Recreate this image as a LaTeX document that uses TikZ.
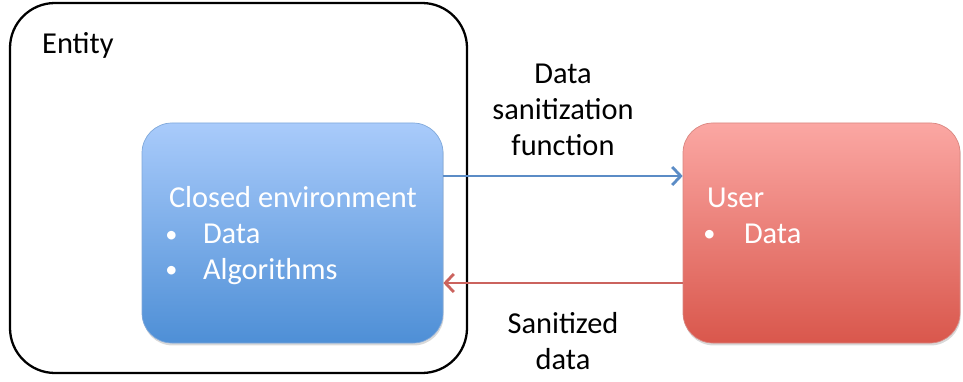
\documentclass[tikz,border=0pt]{standalone}
\usepackage{fontspec}
\setmainfont{Carlito}
\usetikzlibrary{arrows.meta,positioning,calc,shadows}
\definecolor{envtop}{HTML}{A9CBFB}
\definecolor{envbot}{HTML}{4E8FD6}
\definecolor{envline}{HTML}{7FA8DA}
\definecolor{usertop}{HTML}{FBA7A3}
\definecolor{userbot}{HTML}{D9574C}
\definecolor{userline}{HTML}{D98680}
\definecolor{bluearr}{HTML}{5B8CC6}
\definecolor{redarr}{HTML}{CB635E}
\tikzset{
  entitybox/.style={draw, line width=1.3pt, rounded corners=0.9cm, minimum width=9.14cm, minimum height=7.4cm},
  envbox/.style={draw=envline, rounded corners=0.6cm, top color=envtop, bottom color=envbot, minimum width=6.02cm, minimum height=4.4cm,
    drop shadow={shadow xshift=0.4pt, shadow yshift=-1.4pt, opacity=0.3}},
  userbox/.style={draw=userline, rounded corners=0.6cm, top color=usertop, bottom color=userbot, minimum width=5.54cm, minimum height=4.4cm,
    drop shadow={shadow xshift=0.4pt, shadow yshift=-1.4pt, opacity=0.3}},
  big/.style={font=\fontsize{17.3}{20.4}\selectfont},
  boxtext/.style={big, text=white, align=left, inner sep=0pt, anchor=base west},
  lab/.style={big, align=center},
  arrow/.style={-{Straight Barb[length=1.7mm,width=3.6mm,line width=1.6pt]}, line width=1.6pt},
}
\newcommand{\itm}[2]{\makebox[#1][l]{\kern-2pt\raisebox{1pt}{\scalebox{0.8}{\textbullet}}}#2}

\begin{document}
\begin{tikzpicture}
\useasboundingbox (0,0) rectangle (19.26,7.62);
\node[entitybox] (ent) at (4.77,3.86) {};
\node[big, inner sep=0pt, anchor=base west] (entlab) at ($(ent.north west)+(0.66,-1.04)$) {Entity};

\node[envbox] (env) at (5.85,2.96) {};
\node[userbox] (user) at (16.43,2.96) {};

% contenu des boites (ancre sur la derniere ligne)
\node[boxtext] (envtxt) at ($(env.north west)+(0.54,-3.14)$) {Closed environment\\\itm{0.68cm}{Data}\\\itm{0.68cm}{Algorithms}};
\node[boxtext] (usertxt) at ($(user.north west)+(0.48,-2.42)$) {User\\\itm{0.74cm}{Data}};

% echanges
\draw[arrow, bluearr] ([yshift=1.14cm]env.east) -- ([yshift=1.14cm]user.west)
  node[lab, midway, above=0.27cm, text=black] (fct) {Data\\sanitization\\function};
\draw[arrow, redarr] ([yshift=-1.0cm]user.west) -- ([yshift=-1.0cm]env.east)
  node[lab, midway, below=0.45cm, text=black] (san) {Sanitized\\data};
\end{tikzpicture}
\end{document}
